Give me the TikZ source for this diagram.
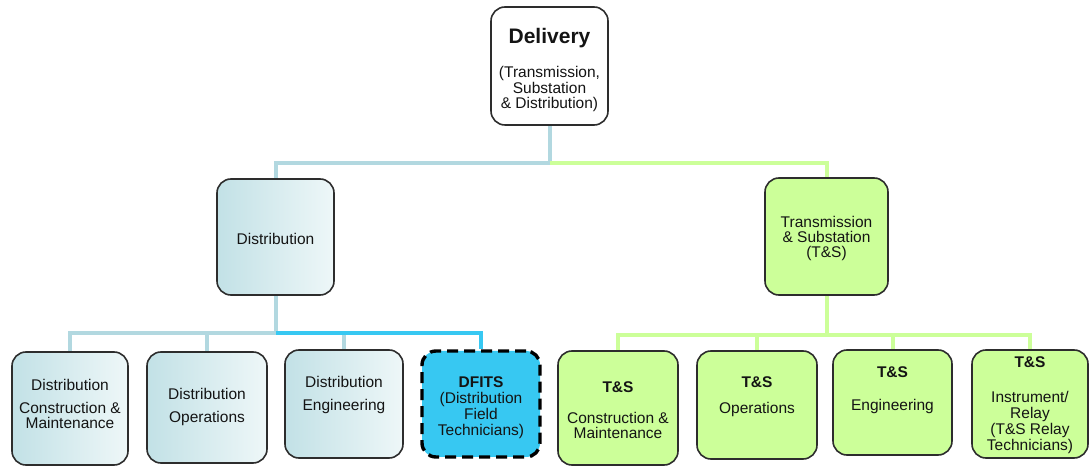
\documentclass[tikz,border=0pt]{standalone}
\usepackage{fontspec}
\setmainfont{Liberation Sans}
\usetikzlibrary{backgrounds,calc}
\definecolor{boxline}{RGB}{45,45,45}
\definecolor{textc}{RGB}{20,20,20}
\definecolor{distA}{RGB}{194,225,230}
\definecolor{distB}{RGB}{238,247,248}
\definecolor{tsfill}{RGB}{204,255,153}
\definecolor{dfitsfill}{RGB}{55,200,242}
\definecolor{lineblue}{RGB}{178,216,224}
\definecolor{linegreen}{RGB}{204,255,153}
\definecolor{brightblue}{RGB}{55,200,242}
\begin{document}
\begin{tikzpicture}[x=1pt,y=1pt,
  box/.style={draw=boxline, line width=1.6pt, rounded corners=14pt, inner sep=0pt},
  wbox/.style={box, fill=white},
  dbox/.style={box, left color=distA, right color=distB},
  gbox/.style={box, fill=tsfill},
  hbox/.style={rounded corners=14pt, fill=dfitsfill, draw=black, line width=3.4pt, dash pattern=on 11pt off 6pt, inner sep=0pt},
  txt/.style={align=center, font=\fontsize{15.5}{16}\selectfont, text=textc, inner sep=0pt},
  lb/.style={draw=lineblue, line width=4pt},
  lg/.style={draw=linegreen, line width=4pt},
  lbright/.style={draw=brightblue, line width=4pt},
]
\useasboundingbox (0,0) rectangle (1090,466);
% boxes
\node[wbox, minimum width=117pt, minimum height=118pt] (del) at (549.5,400) {};
\node[dbox, minimum width=117pt, minimum height=116pt] (dist) at (275.5,229) {};
\node[gbox, minimum width=123pt, minimum height=117pt] (ts) at (826.5,229.5) {};
\node[dbox, minimum width=116pt, minimum height=113pt] (b1) at (70,57.5) {};
\node[dbox, minimum width=120pt, minimum height=111pt] (b2) at (207,58.5) {};
\node[dbox, minimum width=118pt, minimum height=108pt] (b3) at (344,62) {};
\node[hbox, minimum width=118pt, minimum height=106pt] (b4) at (481,62) {};
\node[gbox, minimum width=120pt, minimum height=114pt] (b5) at (618,58) {};
\node[gbox, minimum width=120pt, minimum height=108pt] (b6) at (757,61) {};
\node[gbox, minimum width=119pt, minimum height=105pt] (b7) at (892.5,63.5) {};
\node[gbox, minimum width=116pt, minimum height=108pt] (b8) at (1030,62) {};
% texts
\node[txt] (delT) at ($(del.center)+(0,-4)$) {{\bfseries\fontsize{21}{24}\selectfont Delivery}\\[18pt](Transmission,\\Substation\\\& Distribution)};
\node[txt] (distT) at ($(dist.center)+(0,-2)$) {Distribution};
\node[txt] (tsT) at ($(ts.center)+(0,-2)$) {Transmission\\[-1pt]\& Substation\\[-1pt](T\&S)};
\node[txt] (b1T) at ($(b1.center)+(0,4.5)$) {Distribution\\[7pt]Construction \&\\[-1pt]Maintenance};
\node[txt] (b2T) at ($(b2.center)+(0,0.5)$) {Distribution\\[7pt]Operations};
\node[txt] (b3T) at ($(b3.center)+(0,9)$) {Distribution\\[7pt]Engineering};
\node[txt] (b4T) at ($(b4.center)+(0,-3.5)$) {\bfseries DFITS\\(Distribution\\Field\\Technicians)};
\node[txt] (b5T) at ($(b5.center)+(0,-2)$) {\bfseries T\&S\\[15pt]Construction \&\\[-1pt]Maintenance};
\node[txt] (b6T) at ($(b6.center)+(0,8.5)$) {\bfseries T\&S\\[10pt]Operations};
\node[txt] (b7T) at ($(b7.center)+(0,12.5)$) {\bfseries T\&S\\[17pt]Engineering};
\node[txt] (b8T) at ($(b8.center)+(0,-1.5)$) {\bfseries T\&S\\[19pt]Instrument/\\Relay\\(T\&S Relay\\Technicians)};
% junctions
\coordinate (j0) at (del.south |- 0,303);
\coordinate (j1) at (dist.south |- 0,133);
\coordinate (j2) at (ts.south |- 0,131);
% connectors
\begin{scope}[on background layer]
\draw[lb] (del.south) -- (j0) -| (dist.north);
\draw[lg] (j0) -| (ts.north);
\draw[lb] (dist.south) -- (j1) -| (b1.north);
\draw[lb] (j1 -| b2.north) -- (b2.north);
\draw[lb] (j1 -| b3.north) -- (b3.north);
\draw[lbright] (j1) -| (b4.north);
\draw[lg] (ts.south) -- (j2) -| (b5.north);
\draw[lg] (j2) -| (b8.north);
\draw[lg] (j2 -| b6.north) -- (b6.north);
\draw[lg] (j2 -| b7.north) -- (b7.north);
\end{scope}
\end{tikzpicture}
\end{document}
